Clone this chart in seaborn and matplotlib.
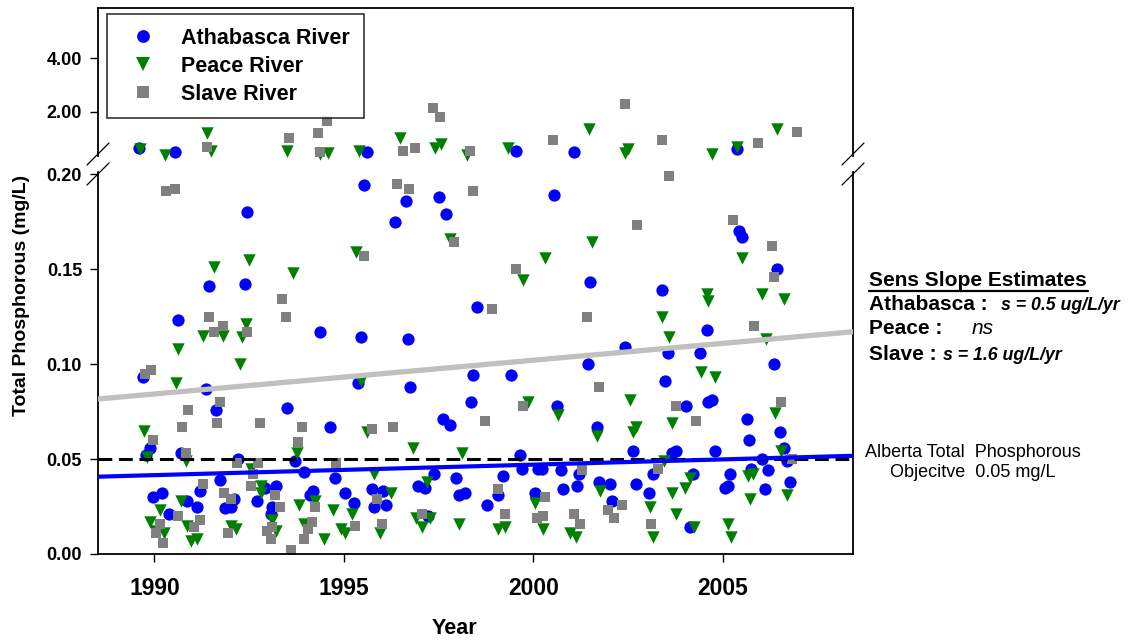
import numpy as np
import pandas as pd
import matplotlib
matplotlib.use("Agg")
import matplotlib.pyplot as plt
from matplotlib.lines import Line2D
import seaborn as sns

# ---------------- data ----------------
ath_year = [1995.52, 1992.45, 1996.63, 1997.52, 1997.70, 1996.36, 1991.43, 1992.38, 1990.61, 1994.37,
            1995.46, 1996.69, 1998.52, 2000.54, 2005.44, 2005.52, 2006.43, 2001.51, 2003.41, 2004.58,
            2002.42, 2003.56, 2004.41, 2001.45, 2006.36, 1989.70, 1991.35, 1995.37, 1996.75, 1998.41,
            1998.36, 1993.51, 1994.63, 1991.62, 1997.62, 1997.81, 1989.89, 1989.77, 1990.71, 1992.21,
            1993.70, 1993.94, 1994.76, 1997.38, 1997.95, 1996.96, 1997.13, 1991.72, 1991.20, 1989.97,
            1990.20, 1990.38, 1990.87, 1991.13, 1992.10, 1991.86, 1992.03, 1992.91, 1993.20, 1992.72,
            1993.09, 1993.07, 1994.19, 1994.10, 1995.02, 1995.26, 1995.73, 1996.03, 1995.80, 1996.12,
            1997.22, 1998.04, 1998.19, 1999.41, 2003.48, 2000.63, 2004.02, 2004.62, 2004.72, 2005.65,
            2005.70, 2006.51, 2006.62, 2006.69, 2001.67, 2002.64, 2003.65, 2003.77, 2004.79, 1999.65,
            1999.69, 1999.21, 2000.13, 2000.22, 2000.72, 2001.21, 2003.15, 2004.22, 2005.19, 2006.03,
            2005.76, 2006.20, 2006.77, 2006.13, 2005.06, 2005.15, 1998.77, 1999.06, 2000.05, 2000.79,
            2001.16, 2001.73, 2002.02, 2002.71, 2003.06, 2002.09, 2004.13,
            1989.60, 1990.53, 1995.61, 1999.55, 2001.07, 2005.39]
ath_tp = [0.194, 0.180, 0.186, 0.188, 0.179, 0.175, 0.141, 0.142, 0.123, 0.117,
          0.114, 0.113, 0.130, 0.189, 0.170, 0.167, 0.150, 0.143, 0.139, 0.118,
          0.109, 0.106, 0.106, 0.100, 0.100, 0.093, 0.087, 0.090, 0.088, 0.094,
          0.080, 0.077, 0.067, 0.076, 0.071, 0.068, 0.056, 0.052, 0.053, 0.050,
          0.049, 0.043, 0.040, 0.042, 0.040, 0.036, 0.035, 0.039, 0.033, 0.030,
          0.032, 0.021, 0.028, 0.025, 0.029, 0.024, 0.025, 0.035, 0.036, 0.028,
          0.025, 0.021, 0.033, 0.031, 0.032, 0.027, 0.034, 0.033, 0.025, 0.026,
          0.020, 0.031, 0.032, 0.094, 0.091, 0.078, 0.078, 0.080, 0.081, 0.071,
          0.060, 0.064, 0.056, 0.049, 0.067, 0.054, 0.053, 0.054, 0.054, 0.052,
          0.045, 0.041, 0.045, 0.045, 0.044, 0.042, 0.042, 0.042, 0.042, 0.050,
          0.045, 0.044, 0.038, 0.034, 0.035, 0.036, 0.026, 0.031, 0.032, 0.034,
          0.036, 0.038, 0.037, 0.037, 0.032, 0.028, 0.014,
          0.63, 0.50, 0.48, 0.54, 0.48, 0.60]

pea_year = [1991.56, 1992.50, 1993.66, 1995.31, 1997.79, 1992.41, 1991.28, 1991.82, 1992.30, 1990.63,
            1992.25, 2001.54, 2000.30, 1999.72, 2005.52, 2006.04, 2006.63, 2004.59, 2004.62, 2003.41,
            2003.57, 2006.14, 1990.56, 1995.46, 1995.62, 1989.72, 1989.81, 1990.82, 1993.75, 1996.83,
            1998.13, 1992.54, 1995.80, 1997.19, 1990.14, 1990.71, 1992.81, 1992.82, 1994.23, 1993.82,
            1994.71, 1996.24, 1995.22, 1996.91, 1997.28, 1998.04, 1997.05, 1995.96, 1994.93, 1995.04,
            1994.47, 1993.94, 1993.22, 1993.09, 1992.03, 1992.16, 1990.96, 1991.13, 1990.85, 1989.88,
            1990.01, 1990.25, 2004.43, 2004.79, 1999.87, 2000.64, 2002.55, 2003.65, 2006.38, 2006.53,
            2001.67, 2002.71, 2002.64, 2003.46, 2004.15, 2004.00, 2005.67, 2005.81, 2006.71, 2005.72,
            2000.05, 2001.76, 2003.08, 2003.65, 2003.78, 2004.24, 2005.15, 2005.21, 2003.17, 1999.06,
            1999.25, 2000.27, 2000.97, 2001.14,
            1989.63, 1990.28, 1991.39, 1991.49, 1993.50, 1994.37, 1994.59, 1995.39, 1996.48, 1997.40,
            1997.57, 1998.26, 1999.32, 2001.46, 2002.49, 2002.41, 2004.73, 2005.39, 2006.44]
pea_tp = [0.151, 0.155, 0.148, 0.159, 0.166, 0.121, 0.115, 0.115, 0.114, 0.108,
          0.100, 0.164, 0.156, 0.144, 0.156, 0.137, 0.134, 0.137, 0.133, 0.125,
          0.114, 0.113, 0.090, 0.091, 0.064, 0.065, 0.051, 0.049, 0.053, 0.056,
          0.053, 0.045, 0.042, 0.038, 0.023, 0.028, 0.036, 0.032, 0.028, 0.026,
          0.023, 0.032, 0.021, 0.019, 0.019, 0.016, 0.014, 0.011, 0.013, 0.011,
          0.008, 0.016, 0.012, 0.018, 0.015, 0.013, 0.007, 0.008, 0.015, 0.017,
          0.012, 0.011, 0.096, 0.093, 0.080, 0.073, 0.081, 0.069, 0.074, 0.054,
          0.062, 0.067, 0.064, 0.049, 0.040, 0.035, 0.041, 0.042, 0.031, 0.029,
          0.027, 0.033, 0.025, 0.032, 0.021, 0.014, 0.016, 0.009, 0.009, 0.013,
          0.014, 0.013, 0.011, 0.009,
          0.59, 0.38, 1.21, 0.53, 0.53, 0.40, 0.47, 0.53, 1.00, 0.65,
          0.78, 0.38, 0.65, 1.35, 0.59, 0.44, 0.42, 0.66, 1.34]

sla_year = [1990.30, 1990.53, 1996.41, 1996.72, 1998.41, 1997.91, 1995.52, 1993.36, 1993.46, 1991.45,
            1991.80, 1991.56, 1992.45, 2003.58, 2002.75, 2005.27, 2006.29, 2006.35, 1999.55, 1998.90,
            2001.42, 2005.83, 1989.75, 1989.90, 1991.73, 1990.89, 1990.72, 1991.64, 1992.79, 1993.90,
            1993.79, 1989.95, 1995.73, 1996.30, 1990.82, 1992.19, 1992.74, 1992.61, 1992.54, 1994.78,
            1991.29, 1991.84, 1992.03, 1993.18, 1993.31, 1994.23, 1995.88, 1990.62, 1997.06, 1996.02,
            1995.29, 1994.15, 1994.06, 1993.95, 1993.60, 1992.96, 1993.09, 1993.07, 1991.94, 1991.05,
            1991.20, 1990.23, 1990.05, 1990.14, 2001.73, 1998.73, 1999.74, 2003.77, 2004.30, 2006.54,
            2006.82, 2001.29, 2003.30, 1999.08, 2000.31, 2002.33, 2001.98, 2002.14, 2003.10, 1999.25,
            2000.09, 2000.27, 2001.07, 2001.23,
            1991.39, 1993.54, 1994.55, 1994.31, 1994.37, 1996.57, 1996.89, 1997.34, 1997.55, 1998.34,
            2000.53, 2002.41, 2003.39, 2005.94, 2006.95]
sla_tp = [0.191, 0.192, 0.195, 0.192, 0.191, 0.164, 0.157, 0.134, 0.125, 0.125,
          0.120, 0.117, 0.117, 0.199, 0.173, 0.176, 0.162, 0.146, 0.150, 0.129,
          0.125, 0.120, 0.095, 0.097, 0.080, 0.076, 0.067, 0.069, 0.069, 0.067,
          0.059, 0.060, 0.066, 0.067, 0.053, 0.048, 0.048, 0.042, 0.036, 0.048,
          0.037, 0.032, 0.029, 0.031, 0.025, 0.025, 0.029, 0.020, 0.021, 0.016,
          0.015, 0.017, 0.013, 0.008, 0.002, 0.012, 0.014, 0.008, 0.011, 0.014,
          0.018, 0.006, 0.011, 0.016, 0.088, 0.070, 0.078, 0.078, 0.070, 0.080,
          0.050, 0.044, 0.045, 0.034, 0.030, 0.026, 0.023, 0.019, 0.016, 0.021,
          0.019, 0.020, 0.021, 0.016,
          0.69, 1.00, 1.66, 1.21, 0.50, 0.53, 0.63, 2.13, 1.79, 0.54,
          0.94, 2.29, 0.94, 0.82, 1.24]

rivers = ["Athabasca River", "Peace River", "Slave River"]
colors = ["#0000ff", "#008000", "#808080"]
markers = ["o", "v", "s"]

# Sen slope trend lines (value at start / end of x-range)
trend_years = [1988.51, 2008.44]
ath_trend = [0.0407, 0.0517]
sla_trend = [0.0816, 0.1170]
objective = 0.05

xlim = (1988.51, 2008.44)
x_ticks = [1990, 1995, 2000, 2005]
low_ticks = [0.00, 0.05, 0.10, 0.15, 0.20]
up_ticks = [2.00, 4.00]

df = pd.concat([
    pd.DataFrame({"Year": ath_year, "TP": ath_tp, "River": rivers[0]}),
    pd.DataFrame({"Year": pea_year, "TP": pea_tp, "River": rivers[1]}),
    pd.DataFrame({"Year": sla_year, "TP": sla_tp, "River": rivers[2]}),
], ignore_index=True)

# ---------------- style ----------------
sns.set_style("white")
plt.rcParams["font.family"] = ["Liberation Sans", "DejaVu Sans"]
for k in ("text.color", "axes.labelcolor", "xtick.color", "ytick.color", "axes.edgecolor"):
    plt.rcParams[k] = "black"

W, H = 1128, 640
fig = plt.figure(figsize=(W / 100, H / 100), dpi=100)

def fx(px):
    return px / W

def fy(py):
    return 1 - py / H

ax_top = fig.add_axes([fx(98), fy(156), fx(853) - fx(98), fy(8) - fy(156)])
ax_bot = fig.add_axes([fx(98), fy(554), fx(853) - fx(98), fy(172) - fy(554)])

sizes = [78, 80, 62]
for ax, sub in [(ax_top, df[df.TP > 0.25]), (ax_bot, df[df.TP <= 0.25])]:
    for r, c, m, s in zip(rivers, colors, markers, sizes):
        d = sub[sub.River == r]
        sns.scatterplot(data=d, x="Year", y="TP", color=c, marker=m, s=s,
                        edgecolor=c, linewidth=0, ax=ax, clip_on=False, legend=False, zorder=2)

# objective and trend lines
ax_bot.axhline(objective, color="black", lw=2.2, dashes=(4.5, 2.2), zorder=3)
tr = pd.DataFrame({"Year": trend_years, "Ath": ath_trend, "Sla": sla_trend})
sns.lineplot(data=tr, x="Year", y="Sla", color="#c0c0c0", lw=3.8, ax=ax_bot, zorder=4)
sns.lineplot(data=tr, x="Year", y="Ath", color="#0000ff", lw=3.0, ax=ax_bot, zorder=5)

for ax in (ax_top, ax_bot):
    ax.set_xlim(*xlim)
    ax.set_xlabel("")
    ax.set_ylabel("")
    for sp in ax.spines.values():
        sp.set_color("black")
        sp.set_linewidth(1.3)
    ax.tick_params(axis="y", direction="out", length=5.5, width=1, pad=6,
                   labelsize=13, left=True, colors="black")

ax_top.set_ylim(0.341, 5.88)
ax_top.set_yticks(up_ticks)
ax_top.set_yticklabels([f"{v:.2f}" for v in up_ticks], fontweight="bold", fontsize=13)
ax_top.set_xticks([])
ax_top.spines["bottom"].set_visible(False)

ax_bot.set_ylim(0, 0.2011)
ax_bot.set_yticks(low_ticks)
ax_bot.set_yticklabels([f"{v:.2f}" for v in low_ticks], fontweight="bold", fontsize=13)
ax_bot.set_xticks(x_ticks)
ax_bot.set_xticklabels([str(v) for v in x_ticks], fontweight="bold", fontsize=16.5)
ax_bot.tick_params(axis="x", direction="out", length=5.5, width=1, pad=11, bottom=True,
                   colors="black")
ax_bot.spines["top"].set_visible(False)

# axis break marks
for xc in (98, 853):
    for yc in (154, 174):
        fig.add_artist(Line2D([fx(xc - 11), fx(xc + 11)], [fy(yc + 11), fy(yc - 11)],
                              color="black", lw=0.9, transform=fig.transFigure))

# axis labels
fig.text(fx(454), fy(629), "Year", ha="center", va="center", fontsize=15.5, fontweight="bold")
fig.text(fx(22), fy(295), "Total Phosphorous (mg/L)", ha="center", va="center",
         rotation=90, fontsize=14, fontweight="bold")

# legend
handles = [Line2D([], [], marker=m, color=c, linestyle="", markersize=s, markeredgewidth=0)
           for m, c, s in zip(markers, colors, [9.2, 9.6, 8.2])]
leg = fig.legend(handles, rivers, loc="upper left", bbox_to_anchor=(fx(107), fy(14)),
                 bbox_transform=fig.transFigure, borderaxespad=0, frameon=True,
                 fancybox=False, edgecolor="black", prop={"size": 15.5, "weight": "bold"},
                 handletextpad=0.73, handlelength=2.07, labelspacing=0.32, borderpad=0.64)
leg.get_frame().set_linewidth(1.2)
for t in leg.get_texts():
    t.set_color("black")

# right-hand annotations
fig.text(fx(869), fy(280), "Sens Slope Estimates", fontsize=15, fontweight="bold", va="center")
fig.add_artist(Line2D([fx(869), fx(1088)], [fy(291), fy(291)], color="black", lw=1.6,
                      transform=fig.transFigure))
fig.text(fx(869), fy(304), "Athabasca :", fontsize=15, fontweight="bold", va="center")
fig.text(fx(1001), fy(305), "s = 0.5 ug/L/yr", fontsize=12.8, fontweight="bold",
         style="italic", va="center")
fig.text(fx(869), fy(329), "Peace :", fontsize=15, fontweight="bold", va="center")
fig.text(fx(972), fy(329), "ns", fontsize=15, style="italic", va="center")
fig.text(fx(869), fy(354), "Slave :", fontsize=15, fontweight="bold", va="center")
fig.text(fx(943), fy(355), "s = 1.6 ug/L/yr", fontsize=12.8, fontweight="bold",
         style="italic", va="center")

fig.text(fx(972.5), fy(462.5), "Alberta Total  Phosphorous\nObjecitve  0.05 mg/L",
         ha="center", va="center", fontsize=13, linespacing=1.3)

fig.savefig("out.png", dpi=100)
